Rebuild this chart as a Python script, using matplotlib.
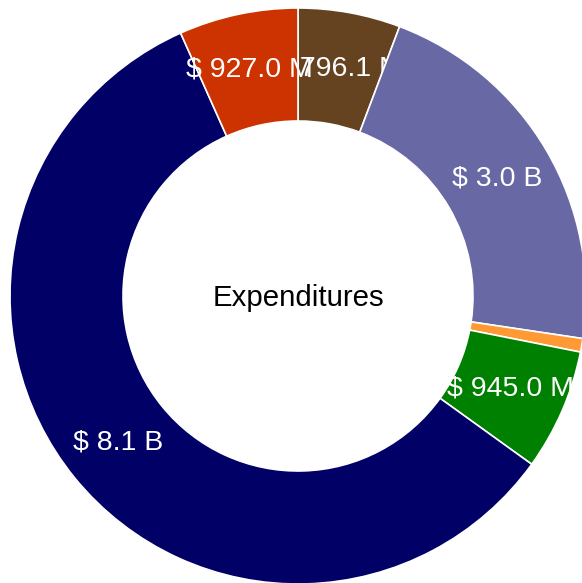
import math

import matplotlib
matplotlib.use('Agg')
import matplotlib.pyplot as plt
from matplotlib.patches import Wedge

plt.rcParams['font.family'] = ['Liberation Sans', 'DejaVu Sans']

# slices, clockwise from 12 o'clock
categories = ['A', 'B', 'C', 'D', 'E', 'F']
values = [796.1e6, 3.0e9, 105e6, 945.0e6, 8.1e9, 927.0e6]
labels = ['$ 796.1 M', '$ 3.0 B', '', '$ 945.0 M', '$ 8.1 B', '$ 927.0 M']
colors = ['#654321', '#6868A4', '#FF9933', '#008000', '#000066', '#CC3300']
center_title = 'Expenditures'

W, H = 582, 583
R_PX = 288.0
CX, CY = 298, 296  # pixel center (from top-left)

fig = plt.figure(figsize=(W / 100, H / 100), dpi=100)
ax = fig.add_axes([0, 0, 1, 1])
ax.set_xlim(-CX / R_PX, (W - CX) / R_PX)
ax.set_ylim(-(H - CY) / R_PX, CY / R_PX)
ax.set_aspect('equal')
ax.axis('off')

r_out, r_in = 1.0, 175 / R_PX
r_lab = (r_out + r_in) / 2
total = sum(values)
start = 90.0
# later wedges cover earlier labels, like the original renderer
for i, (v, lab, col) in enumerate(zip(values, labels, colors)):
    sweep = 360.0 * v / total
    end = start
    beg = start - sweep
    ax.add_patch(Wedge((0, 0), r_out, beg, end, width=r_out - r_in,
                       facecolor=col, edgecolor='white', linewidth=1.2, zorder=2 * i))
    mid = math.radians((beg + end) / 2)
    if lab:
        ax.text(r_lab * math.cos(mid), r_lab * math.sin(mid), lab, color='white',
                fontsize=20.5, ha='center', va='center', zorder=2 * i + 1)
    start = beg

ax.text(0, -0.006, center_title, fontsize=21.2, ha='center', va='center', color='black')

fig.savefig('out.png', dpi=100)
